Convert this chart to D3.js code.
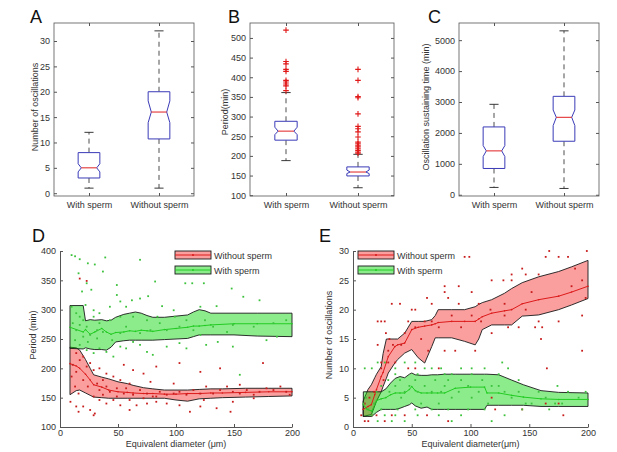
<!DOCTYPE html>
<html>
<head>
<meta charset="utf-8">
<script src="https://cdnjs.cloudflare.com/ajax/libs/d3/7.8.5/d3.min.js"></script>
<style>
  body { margin: 0; background: #fff; }
  svg { display: block; font-family: "Liberation Sans", Arial, sans-serif; }
</style>
</head>
<body>
<svg id="fig" width="617" height="452"></svg>
<script>
// ---------- data : box plots (A, B, C) ----------
var groups = ["With sperm", "Without sperm"];

var oscLo = [1, 1], oscQ1 = [3, 10.7], oscMed = [5, 16], oscQ3 = [8, 20], oscHi = [12, 32];
var oscNotchLo = [4.2, 13.9], oscNotchHi = [5.8, 18.2];
var oscTicks = [0, 5, 10, 15, 20, 25, 30];

var perLo = [188, 119], perQ1 = [240, 149], perMed = [263, 159], perQ3 = [288, 172], perHi = [361, 204];
var perNotchLo = [254, 155], perNotchHi = [273, 164];
var perOutWith = [520, 440, 434, 420, 415, 392, 388, 383, 378, 366];
var perOutWithout = [420, 392, 351, 348, 307, 275, 269, 261, 248, 235, 231, 227, 223, 218, 214, 210, 207];
var perTicks = [100, 150, 200, 250, 300, 350, 400, 450, 500];

var susLo = [237, 204], susQ1 = [850, 1731], susMed = [1419, 2505], susQ3 = [2194, 3183], susHi = [2925, 5301];
var susNotchLo = [1237, 2237], susNotchHi = [1591, 2742];
var susTicks = [0, 1000, 2000, 3000, 4000, 5000];

// ---------- data : D, period vs diameter ----------
var diamTicks = [0, 50, 100, 150, 200];
var periodTicks = [100, 150, 200, 250, 300, 350, 400];

var dWithX   = [8.6, 20, 22, 26, 30, 36, 40, 44, 48, 55, 60, 65, 70, 75, 80, 90, 100, 110, 115, 120, 125, 130, 150, 170, 200];
var dWithHi  = [307, 307, 281, 283, 282, 283, 281, 282, 287, 292, 294, 296, 294, 290, 287, 287, 289, 291, 296, 300, 298, 294, 294, 294, 294];
var dWithMed = [270, 262, 266, 258, 262, 268, 262, 258, 261, 262, 264, 263, 265, 264, 263, 266, 268, 270, 272, 272, 273, 274, 276, 276, 276];
var dWithLo  = [234, 233, 235, 233, 232, 232, 231, 236, 245, 247, 248, 248, 248, 248, 248, 249, 250, 251, 254, 257, 257, 257, 257, 255, 254];

var dWithoutX   = [8.6, 14, 17, 22, 26, 29, 36, 42, 50, 58, 63, 72, 80, 90, 100, 110, 120, 130, 140, 160, 180, 200];
var dWithoutHi  = [236, 235, 231, 215, 200, 189, 185, 182, 177, 174, 171, 167, 165, 163, 163, 163, 164, 165, 165, 166, 166, 166];
var dWithoutMed = [208, 204, 200, 190, 180, 172, 168, 163, 160, 159, 158, 157, 157, 156, 156, 157, 157, 158, 158, 159, 160, 160];
var dWithoutLo  = [155, 162, 163, 158, 154, 151, 150, 149, 149, 149, 149, 149, 149, 149, 146, 144, 148, 149, 150, 151, 152, 153];

var dWithPts = [
  [10, 393], [13, 391], [17, 386], [24, 379], [30, 377], [39, 389], [37, 365], [16, 362], [23, 345], [19, 331],
  [27, 334], [49, 342], [49, 325], [62, 316], [69, 319], [76, 323], [82, 348], [69, 385], [108, 345], [114, 345],
  [124, 345], [148, 336], [172, 316], [158, 322], [121, 305], [135, 306], [88, 306], [98, 299], [57, 305], [34, 294],
  [17, 288], [11, 277], [14, 265], [23, 271], [26, 257], [32, 251], [37, 262], [20, 254], [13, 248], [17, 240],
  [23, 231], [29, 226], [34, 234], [40, 228], [46, 220], [52, 237], [57, 234], [63, 245], [69, 240], [75, 228],
  [80, 223], [92, 237], [103, 243], [109, 234], [126, 240], [136, 245], [149, 237], [155, 189], [178, 248], [187, 254],
  [121, 257], [103, 271], [86, 277], [75, 282], [52, 288], [43, 282], [29, 288], [34, 277], [20, 282], [14, 294],
  [10, 305], [43, 305], [52, 314], [63, 288], [78, 265], [92, 265], [115, 265], [132, 271], [149, 274], [167, 271],
  [184, 277], [195, 282], [144, 262], [109, 282], [69, 260], [57, 271], [52, 260], [32, 265], [24, 245], [17, 274],
  [45, 248], [84, 288], [99, 288], [22, 308], [29, 299], [125, 282]
];

var dWithoutPts = [
  [17, 353], [23, 349], [11, 206], [14, 194], [16, 157], [9, 143], [14, 135], [16, 126], [20, 135], [26, 129],
  [29, 120], [30, 123], [34, 146], [40, 140], [46, 146], [52, 137], [60, 129], [66, 137], [75, 140], [83, 143],
  [92, 140], [103, 137], [112, 126], [121, 135], [135, 132], [147, 126], [23, 203], [29, 197], [34, 200], [40, 191],
  [46, 186], [55, 206], [63, 197], [72, 191], [83, 203], [103, 209], [121, 194], [138, 200], [155, 172], [175, 209],
  [20, 180], [24, 169], [32, 174], [34, 163], [40, 169], [43, 160], [49, 166], [55, 157], [57, 166], [63, 155],
  [69, 163], [75, 157], [80, 152], [86, 160], [92, 155], [98, 157], [103, 160], [109, 155], [115, 163], [121, 157],
  [126, 169], [132, 157], [138, 163], [144, 169], [149, 160], [155, 157], [161, 163], [167, 155], [172, 160], [178, 166],
  [184, 163], [190, 169], [195, 160], [198, 155], [17, 214], [14, 226], [20, 220], [26, 209], [37, 180], [52, 180],
  [60, 174], [78, 177], [98, 174], [29, 152], [37, 155], [49, 152], [60, 146], [72, 149], [83, 152], [124, 146],
  [149, 143], [167, 149], [13, 169], [10, 186]
];

// ---------- data : E, number of oscillations vs diameter ----------
var countTicks = [0, 5, 10, 15, 20, 25, 30];

var eWithoutX   = [8.6, 12.8, 15.6, 18.5, 20, 24, 25.6, 28.4, 30, 35.6, 38, 44, 50, 55.5, 61, 67, 70, 72.5, 84, 95, 104, 107, 110, 118, 129, 135, 144, 158, 175, 186, 200];
var eWithoutHi  = [4.4, 6.4, 7.2, 8.4, 9.0, 10.3, 12.5, 15, 15, 15, 15, 16, 18, 18, 18, 18.3, 19, 20, 20, 20, 20.5, 20.9, 21.2, 21.7, 22.8, 23.6, 24.6, 25.6, 26.5, 27.3, 28.4];
var eWithoutMed = [3.0, 3.5, 3.8, 5.5, 6.4, 8.6, 9.3, 11, 12, 13.7, 14, 14.3, 16.6, 17, 17.2, 17.4, 17.6, 17.8, 18, 18, 18, 18.4, 18.8, 19.4, 19.8, 20, 21, 21.7, 22.3, 23, 24];
var eWithoutLo  = [1.8, 2.0, 2.1, 3.6, 4.4, 6.0, 6.9, 8.3, 9.2, 10.9, 11.5, 12.6, 13.2, 11.8, 10.9, 13.7, 15.2, 15.2, 15.2, 14.6, 14.0, 15.0, 16.6, 17.4, 17.4, 17.4, 18.9, 19.1, 20, 20.8, 21.9];

var eWithX   = [8.8, 12, 16, 20, 24, 28, 32, 36, 40, 44, 48, 50, 53, 58, 63, 67, 72, 78, 87, 100, 112, 114, 124, 135, 145, 160, 175, 200];
var eWithHi  = [6.0, 6.0, 6.0, 6.0, 6.0, 6.5, 7.5, 8.3, 8.6, 8.4, 9.0, 9.2, 8.9, 8.8, 8.8, 8.9, 8.9, 9.0, 9.0, 9.0, 9.0, 9.0, 8.9, 8.0, 7.2, 6.2, 5.9, 5.8];
var eWithMed = [3.8, 3.0, 2.7, 4.5, 4.8, 5.0, 5.5, 5.8, 5.8, 5.8, 6.4, 6.9, 6.2, 5.8, 5.8, 5.8, 5.8, 5.8, 6.6, 6.8, 6.8, 5.8, 5.8, 5.4, 5.1, 4.8, 4.7, 4.7];
var eWithLo  = [1.8, 1.8, 1.8, 2.5, 3.0, 3.0, 3.0, 3.0, 3.2, 3.5, 3.8, 4.1, 3.6, 3.2, 3.4, 3.0, 3.0, 3.0, 3.0, 3.0, 3.0, 3.7, 3.7, 3.7, 3.7, 3.5, 3.5, 3.5];

var eWithoutPts = [
  [24, 18], [27, 18], [31, 15], [34, 14], [28, 16], [21, 18], [33, 21], [40, 21], [50, 20], [53, 20],
  [63, 22], [67, 21], [78, 24], [90, 24], [78, 23], [81, 22], [101, 23], [118, 25], [128, 25], [135, 25],
  [144, 27], [147, 26], [158, 26], [164, 29], [167, 30], [175, 29], [183, 29], [189, 27], [195, 25], [186, 24],
  [198, 22], [195, 19], [199, 30], [95, 29], [99, 29], [135, 26], [158, 18], [160, 15], [155, 17], [147, 20],
  [152, 23], [129, 21], [117, 20], [107, 21], [101, 19], [92, 17], [84, 19], [73, 17], [61, 18], [58, 15],
  [44, 16], [41, 14], [36, 11], [30, 11], [21, 14], [24, 10], [26, 8], [20, 2], [16, 2], [13, 1],
  [10, 1], [7, 2], [10, 4], [14, 5], [18, 6], [27, 1], [33, 2], [44, 2], [63, 2], [81, 1],
  [118, 5], [121, 3], [144, 3], [165, 10], [175, 4], [179, 2], [164, 4], [195, 13], [24, 11], [30, 13],
  [47, 10], [53, 10], [64, 13], [73, 10], [78, 13], [87, 13], [104, 13], [118, 16], [132, 17], [141, 17],
  [161, 17], [175, 18], [129, 19], [109, 18], [90, 21], [67, 18], [53, 17], [47, 18]
];

var eWithPts = [
  [10, 10], [16, 10], [21, 11], [27, 11], [36, 10], [44, 11], [53, 11], [61, 10], [67, 10], [75, 10],
  [84, 9], [92, 10], [101, 10], [112, 10], [127, 11], [132, 10], [118, 7], [141, 6], [152, 4], [164, 5],
  [172, 4], [178, 4], [174, 7], [144, 3], [129, 2], [118, 1], [84, 1], [92, 2], [73, 2], [55, 2],
  [44, 1], [36, 2], [33, 1], [27, 2], [21, 1], [16, 2], [13, 3], [9, 4], [11, 5], [18, 4],
  [20, 6], [24, 7], [30, 8], [31, 6], [36, 7], [40, 8], [41, 5], [44, 6], [48, 7], [53, 8],
  [55, 6], [58, 4], [61, 7], [67, 6], [70, 8], [73, 4], [75, 6], [78, 7], [81, 8], [84, 5],
  [90, 6], [92, 8], [98, 7], [101, 5], [107, 6], [110, 8], [115, 4], [124, 7], [129, 6], [135, 5],
  [141, 8], [147, 4], [158, 6], [167, 3], [183, 6], [192, 5], [198, 6], [24, 3], [38, 3], [53, 3],
  [67, 3], [81, 3], [98, 3], [112, 3], [36, 9], [55, 9], [78, 9], [101, 9], [124, 9]
];

// ---------- drawing ----------
var svg = d3.select("#fig");
var axisColor = "#555", textColor = "#333";

function styleAxis(g) {
  g.selectAll("path.domain").attr("stroke", axisColor);
  g.selectAll(".tick line").attr("stroke", axisColor);
  g.selectAll(".tick text").attr("fill", textColor).attr("font-size", 9)
    .attr("font-family", "Liberation Sans, Arial, sans-serif");
}

function panelLetter(txt, x, y) {
  svg.append("text").attr("x", x).attr("y", y).attr("font-size", 18)
    .attr("fill", "#111").text(txt);
}

function yLabel(txt, x, y) {
  svg.append("text").attr("transform", "translate(" + x + "," + y + ") rotate(-90)")
    .attr("text-anchor", "middle").attr("font-size", 9).attr("fill", textColor).text(txt);
}

// notched box plot panel
function boxPanel(p) {
  var x = d3.scaleLinear().domain([0.5, 2.5]).range([p.left, p.right]);
  var y = d3.scaleLinear().domain(p.yDomain).range([p.bottom, p.top]);
  var g = svg.append("g");
  var hw = 0.155, inset = 0.045, cap = 0.065;

  groups.forEach(function(name, i) {
    var c = i + 1;
    // whiskers (dashed)
    [[p.q3[i], p.hi[i]], [p.q1[i], p.lo[i]]].forEach(function(w) {
      g.append("line").attr("x1", x(c)).attr("x2", x(c))
        .attr("y1", y(w[0])).attr("y2", y(w[1]))
        .attr("stroke", "#222").attr("stroke-width", 0.8).attr("stroke-dasharray", "5,4");
    });
    [p.hi[i], p.lo[i]].forEach(function(v) {
      g.append("line").attr("x1", x(c - cap)).attr("x2", x(c + cap))
        .attr("y1", y(v)).attr("y2", y(v)).attr("stroke", "#222").attr("stroke-width", 0.9);
    });
    // notched box outline
    var pts = [
      [c - hw, p.q1[i]], [c - hw, p.nLo[i]], [c - hw + inset, p.med[i]], [c - hw, p.nHi[i]], [c - hw, p.q3[i]],
      [c + hw, p.q3[i]], [c + hw, p.nHi[i]], [c + hw - inset, p.med[i]], [c + hw, p.nLo[i]], [c + hw, p.q1[i]]
    ];
    g.append("path")
      .attr("d", d3.line().x(function(d){ return x(d[0]); }).y(function(d){ return y(d[1]); })(pts) + "Z")
      .attr("fill", "#fff").attr("stroke", "#3a3ab8").attr("stroke-width", 1);
    g.append("line").attr("x1", x(c - hw + inset)).attr("x2", x(c + hw - inset))
      .attr("y1", y(p.med[i])).attr("y2", y(p.med[i]))
      .attr("stroke", "#e02020").attr("stroke-width", 1);
    // outliers as red plus signs
    (p.out ? p.out[i] : []).forEach(function(v) {
      var px = x(c), py = y(v);
      g.append("path").attr("d", "M" + (px - 2.8) + "," + py + "h5.6M" + px + "," + (py - 2.8) + "v5.6")
        .attr("stroke", "#e01818").attr("stroke-width", 1.1);
    });
  });

  // frame + axes (ticks point inwards, MATLAB style)
  g.append("rect").attr("x", p.left).attr("y", p.top)
    .attr("width", p.right - p.left).attr("height", p.bottom - p.top)
    .attr("fill", "none").attr("stroke", axisColor).attr("stroke-width", 0.8);

  var ya = g.append("g").attr("transform", "translate(" + p.left + ",0)")
    .call(d3.axisLeft(y).tickValues(p.ticks).tickSizeInner(-3).tickSizeOuter(0).tickPadding(4)
      .tickFormat(d3.format("d")));
  ya.select(".domain").remove();
  styleAxis(ya);
  var yr = g.append("g").attr("transform", "translate(" + p.right + ",0)")
    .call(d3.axisRight(y).tickValues(p.ticks).tickSizeInner(-3).tickSizeOuter(0).tickFormat(""));
  yr.select(".domain").remove();
  styleAxis(yr);

  var xa = g.append("g").attr("transform", "translate(0," + p.bottom + ")")
    .call(d3.axisBottom(x).tickValues([1, 2]).tickSizeInner(-3).tickSizeOuter(0).tickPadding(6)
      .tickFormat(function(d){ return groups[d - 1]; }));
  xa.select(".domain").remove();
  styleAxis(xa);
  var xt = g.append("g").attr("transform", "translate(0," + p.top + ")")
    .call(d3.axisTop(x).tickValues([1, 2]).tickSizeInner(-3).tickSizeOuter(0).tickFormat(""));
  xt.select(".domain").remove();
  styleAxis(xt);
}

// shaded band panel with scatter points
function bandPanel(p) {
  var x = d3.scaleLinear().domain([0, 200]).range([p.left, p.right]);
  var y = d3.scaleLinear().domain(p.yDomain).range([p.bottom, p.top]);
  var g = svg.append("g");

  p.series.forEach(function(s) {
    var rows = s.x.map(function(v, i) { return { x: v, hi: s.hi[i], med: s.med[i], lo: s.lo[i] }; });
    g.append("path").datum(rows)
      .attr("d", d3.area().x(function(d){ return x(d.x); })
        .y0(function(d){ return y(d.lo); }).y1(function(d){ return y(d.hi); }))
      .attr("fill", s.fill).attr("fill-opacity", s.alpha)
      .attr("stroke", "#1a1a1a").attr("stroke-width", 0.9);
  });
  p.series.forEach(function(s) {
    var rows = s.x.map(function(v, i) { return { x: v, med: s.med[i] }; });
    g.append("path").datum(rows)
      .attr("d", d3.line().x(function(d){ return x(d.x); }).y(function(d){ return y(d.med); }))
      .attr("fill", "none").attr("stroke", s.line).attr("stroke-width", 1);
    g.selectAll(null).data(rows).enter().append("circle")
      .attr("cx", function(d){ return x(d.x); }).attr("cy", function(d){ return y(d.med); })
      .attr("r", 0.8).attr("fill", s.line);
  });
  p.series.forEach(function(s) {
    g.selectAll(null).data(s.pts).enter().append("rect")
      .attr("x", function(d){ return x(d[0]) - 0.9; }).attr("y", function(d){ return y(d[1]) - 0.9; })
      .attr("width", 1.8).attr("height", 1.8).attr("fill", s.dot);
  });

  var ya = g.append("g").attr("transform", "translate(" + p.left + ",0)")
    .call(d3.axisLeft(y).tickValues(p.ticks).tickSizeInner(-3).tickSizeOuter(0).tickPadding(4));
  styleAxis(ya);
  var xa = g.append("g").attr("transform", "translate(0," + p.bottom + ")")
    .call(d3.axisBottom(x).tickValues(diamTicks).tickSizeInner(-3).tickSizeOuter(0).tickPadding(3));
  styleAxis(xa);

  // legend
  p.legend.forEach(function(s, i) {
    var ly = p.legendTop + i * 15;
    g.append("rect").attr("x", p.legendLeft).attr("y", ly).attr("width", 36).attr("height", 8)
      .attr("fill", s.fill).attr("fill-opacity", s.alpha).attr("stroke", "#1a1a1a").attr("stroke-width", 0.9);
    g.append("line").attr("x1", p.legendLeft).attr("x2", p.legendLeft + 36)
      .attr("y1", ly + 4).attr("y2", ly + 4).attr("stroke", s.line).attr("stroke-width", 1);
    g.append("circle").attr("cx", p.legendLeft + 18).attr("cy", ly + 4).attr("r", 1).attr("fill", s.line);
    g.append("text").attr("x", p.legendLeft + 39).attr("y", ly + 7.5)
      .attr("font-size", 9).attr("fill", textColor).text(s.name);
  });

  g.append("text").attr("x", (p.left + p.right) / 2).attr("y", 447)
    .attr("text-anchor", "middle").attr("font-size", 9).attr("fill", textColor).text(p.xLabel);
}

// ---------- panels ----------
boxPanel({ left: 54, right: 194, top: 23, bottom: 196, yDomain: [-0.55, 33.55], ticks: oscTicks,
  lo: oscLo, q1: oscQ1, med: oscMed, q3: oscQ3, hi: oscHi, nLo: oscNotchLo, nHi: oscNotchHi });
boxPanel({ left: 250, right: 394, top: 23, bottom: 196, yDomain: [98, 538], ticks: perTicks,
  lo: perLo, q1: perQ1, med: perMed, q3: perQ3, hi: perHi, nLo: perNotchLo, nHi: perNotchHi,
  out: [perOutWith, perOutWithout] });
boxPanel({ left: 459, right: 599, top: 23, bottom: 196, yDomain: [-40, 5555], ticks: susTicks,
  lo: susLo, q1: susQ1, med: susMed, q3: susQ3, hi: susHi, nLo: susNotchLo, nHi: susNotchHi });

var redStyle = { name: "Without sperm", fill: "#f20000", alpha: 0.38, line: "#dd1a1a", dot: "#c81c1c" };
var greenStyle = { name: "With sperm", fill: "#00d400", alpha: 0.45, line: "#22cc22", dot: "#3cc23c" };

bandPanel({ left: 60, right: 292, top: 251, bottom: 427, yDomain: [100, 400], ticks: periodTicks,
  xLabel: "Equivalent diameter (\u03bcm)",
  series: [
    Object.assign({ x: dWithoutX, hi: dWithoutHi, med: dWithoutMed, lo: dWithoutLo, pts: dWithoutPts }, redStyle),
    Object.assign({ x: dWithX, hi: dWithHi, med: dWithMed, lo: dWithLo, pts: dWithPts }, greenStyle)
  ],
  legend: [redStyle, greenStyle], legendLeft: 175, legendTop: 251 });

bandPanel({ left: 353, right: 588, top: 251, bottom: 427, yDomain: [0, 30], ticks: countTicks,
  xLabel: "Equivalent diameter(\u03bcm)",
  series: [
    Object.assign({ x: eWithoutX, hi: eWithoutHi, med: eWithoutMed, lo: eWithoutLo, pts: eWithoutPts }, redStyle),
    Object.assign({ x: eWithX, hi: eWithHi, med: eWithMed, lo: eWithLo, pts: eWithPts }, greenStyle)
  ],
  legend: [redStyle, greenStyle], legendLeft: 358, legendTop: 251 });

// labels
panelLetter("A", 30, 23);
panelLetter("B", 228, 23);
panelLetter("C", 428, 23);
panelLetter("D", 32, 242);
panelLetter("E", 319, 242);

yLabel("Number of oscillations", 38, 107);
yLabel("Period(min)", 228, 112);
yLabel("Oscillation sustaining time (min)", 429, 107);
yLabel("Period (min)", 36, 335);
yLabel("Number of oscillations", 332, 335);
</script>
</body>
</html>
